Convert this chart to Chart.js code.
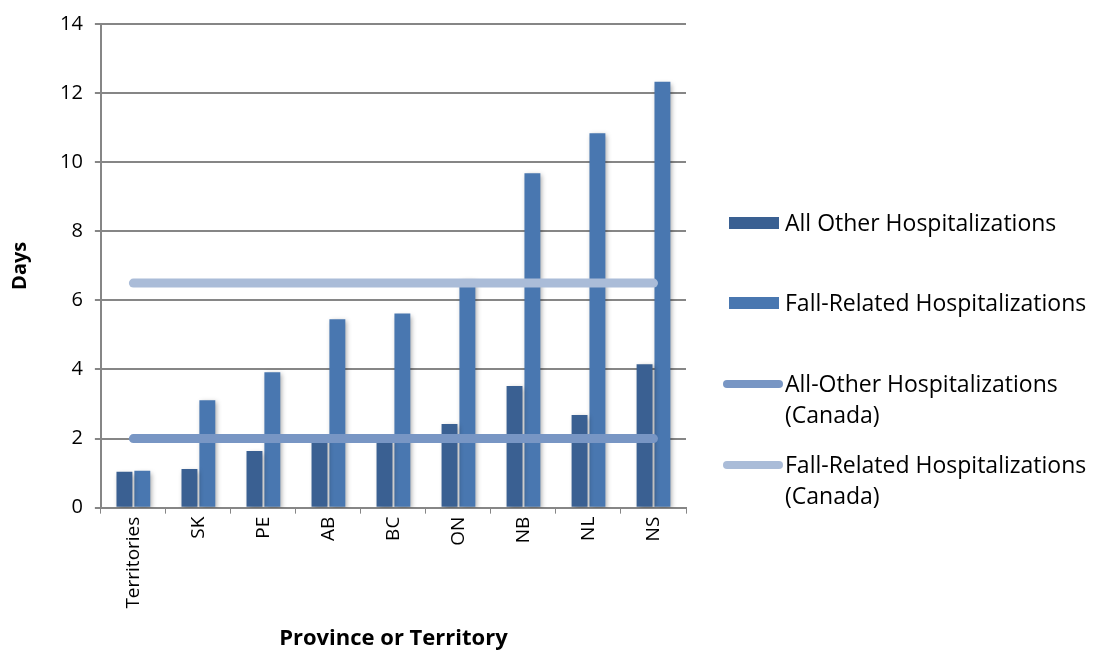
<!DOCTYPE html>
<html>
<head>
<meta charset="utf-8">
<script src="https://cdn.jsdelivr.net/npm/chart.js@4"></script>
<style>
  body { margin: 0; background: #fff; }
  #wrap { position: relative; width: 1094px; height: 656px; }
  #legend { position: absolute; left: 0; top: 0; font-family: "Open Sans", "Liberation Sans", sans-serif; font-size: 23px; color: #000; }
  .item { position: absolute; left: 723px; display: flex; align-items: flex-start; line-height: 31px; white-space: nowrap; }
  .box { width: 50px; height: 12px; margin: 10px 6px 0 6px; }
  .ln { width: 60px; height: 8px; border-radius: 4px; margin: 12px 2px 0 0; }
</style>
</head>
<body>
<div id="wrap">
  <canvas id="chart" width="1094" height="656"></canvas>
  <div id="legend"></div>
</div>
<script>
const provinces = ["Territories", "SK", "PE", "AB", "BC", "ON", "NB", "NL", "NS"];
const allOther = [1.04, 1.12, 1.64, 2.05, 2.03, 2.42, 3.52, 2.68, 4.15];
const fallRelated = [1.07, 3.11, 3.92, 5.45, 5.62, 6.62, 9.68, 10.84, 12.33];
const allOtherCanada = 2.0;
const fallRelatedCanada = 6.5;
const yTicks = [0, 2, 4, 6, 8, 10, 12, 14];

const colors = {
  allOther: "rgb(58, 96, 146)",
  fall: "rgb(73, 119, 176)",
  allOtherLine: "rgb(120, 150, 196)",
  fallLine: "rgb(170, 188, 216)",
};

const barShadow = {
  id: "barShadow",
  beforeDatasetDraw(chart, args) {
    if (args.meta.type !== "bar") return;
    const ctx = chart.ctx;
    ctx.save();
    ctx.shadowColor = "rgba(0,0,0,0.35)";
    ctx.shadowBlur = 5;
    ctx.shadowOffsetX = 2;
    ctx.shadowOffsetY = 2;
  },
  afterDatasetDraw(chart, args) {
    if (args.meta.type !== "bar") return;
    chart.ctx.restore();
  },
};

const font = "'Open Sans', 'Liberation Sans', sans-serif";

new Chart(document.getElementById("chart"), {
  type: "bar",
  data: {
    labels: provinces,
    datasets: [
      {
        type: "line",
        label: "All-Other Hospitalizations (Canada)",
        data: provinces.map(() => allOtherCanada),
        borderColor: colors.allOtherLine,
        borderWidth: 9,
        borderCapStyle: "round",
        pointRadius: 0,
        order: 0,
      },
      {
        type: "line",
        label: "Fall-Related Hospitalizations (Canada)",
        data: provinces.map(() => fallRelatedCanada),
        borderColor: colors.fallLine,
        borderWidth: 9,
        borderCapStyle: "round",
        pointRadius: 0,
        order: 0,
      },
      {
        label: "All Other Hospitalizations",
        data: allOther,
        backgroundColor: colors.allOther,
        categoryPercentage: 0.55,
        barPercentage: 0.89,
        order: 1,
      },
      {
        label: "Fall-Related Hospitalizations",
        data: fallRelated,
        backgroundColor: colors.fall,
        categoryPercentage: 0.55,
        barPercentage: 0.89,
        order: 1,
      },
    ],
  },
  options: {
    responsive: false,
    animation: false,
    layout: { padding: { top: 6, right: 408, left: 4, bottom: 0 } },
    plugins: {
      legend: { display: false },
      tooltip: { enabled: false },
    },
    scales: {
      x: {
        grid: { drawOnChartArea: false, color: "#868686", tickLength: 6 },
        border: { color: "#868686", width: 2 },
        ticks: { color: "#000", font: { family: font, size: 19 }, minRotation: 90, maxRotation: 90 },
        title: { display: true, text: "Province or Territory", color: "#000", padding: { top: 14 }, font: { family: font, size: 22, weight: "bold" } },
      },
      y: {
        min: 0,
        max: 14,
        afterBuildTicks(axis) {
          axis.ticks = yTicks.map((v) => ({ value: v }));
        },
        grid: { color: "#868686", lineWidth: 2, tickLength: 6 },
        border: { color: "#868686", width: 2 },
        ticks: { color: "#000", font: { family: font, size: 20 }, padding: 12 },
        title: { display: true, text: "Days", color: "#000", padding: { bottom: 16 }, font: { family: font, size: 20, weight: "bold" } },
      },
    },
  },
  plugins: [barShadow],
});

const legendItems = [
  { text: "All Other Hospitalizations", kind: "box", color: colors.allOther, top: 207 },
  { text: "Fall-Related Hospitalizations", kind: "box", color: colors.fall, top: 287 },
  { text: "All-Other Hospitalizations<br>(Canada)", kind: "ln", color: colors.allOtherLine, top: 368 },
  { text: "Fall-Related Hospitalizations<br>(Canada)", kind: "ln", color: colors.fallLine, top: 449 },
];
document.getElementById("legend").innerHTML = legendItems
  .map((it) => `<div class="item" style="top:${it.top}px"><div class="${it.kind}" style="background:${it.color}"></div><div>${it.text}</div></div>`)
  .join("");
</script>
</body>
</html>
